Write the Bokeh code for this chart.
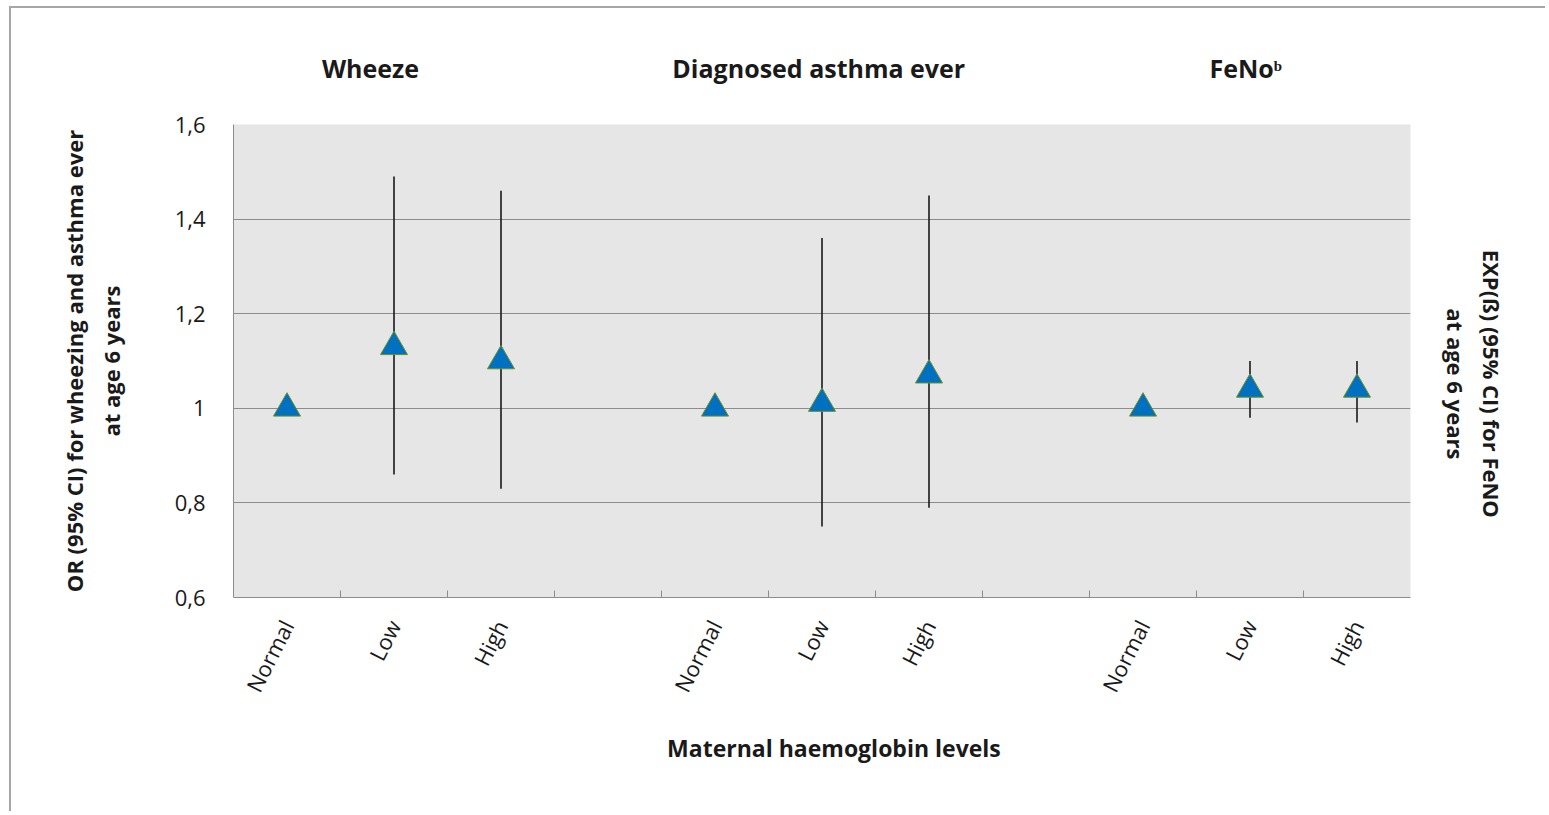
from bokeh.plotting import figure
from bokeh.models import FixedTicker, LinearAxis
from bokeh.embed import file_html
from bokeh.resources import INLINE
import math

# ---- data ----
groups = ["Wheeze", "Diagnosed asthma ever", "FeNo\u1d47"]
levels = ["Normal", "Low", "High"]
wheeze_est = [1.00, 1.13, 1.10]
wheeze_low = [None, 0.86, 0.83]
wheeze_high = [None, 1.49, 1.46]
asthma_est = [1.00, 1.01, 1.07]
asthma_low = [None, 0.75, 0.79]
asthma_high = [None, 1.36, 1.45]
feno_est = [1.00, 1.04, 1.04]
feno_low = [None, 0.98, 0.97]
feno_high = [None, 1.10, 1.10]
y_ticks = [0.6, 0.8, 1.0, 1.2, 1.4, 1.6]
y_tick_labels = ["0,6", "0,8", "1", "1,2", "1,4", "1,6"]

FONT = "Open Sans"
TXT = "#1a1a1a"
GRID = "#8c8c8c"
PAD = "\u00a0" * 8

ests = [wheeze_est, asthma_est, feno_est]
lows = [wheeze_low, asthma_low, feno_low]
highs = [wheeze_high, asthma_high, feno_high]

xs, ys, ex, elo, ehi = [], [], [], [], []
tick_centers, tick_labels = [], []
for g in range(len(groups)):
    for i, lev in enumerate(levels):
        x = g * 4 + i + 0.5
        tick_centers.append(x)
        tick_labels.append(lev)
        xs.append(x)
        ys.append(ests[g][i])
        if lows[g][i] is not None:
            ex.append(x)
            elo.append(lows[g][i])
            ehi.append(highs[g][i])

n_slots = 11

p = figure(width=1536, height=805, output_backend="svg", toolbar_location=None,
           x_range=(0, n_slots), y_range=(0.6, 1.6),
           min_border_left=222, min_border_right=137, min_border_top=116, min_border_bottom=216)
p.styles = {"margin-left": "9px", "margin-top": "6px",
            "border-top": "2px solid #a6a6a6", "border-left": "2px solid #a6a6a6"}
p.background_fill_color = "#e6e6e6"
p.border_fill_color = "white"
p.outline_line_color = None

# y axis (left)
ya = p.yaxis[0]
ya.ticker = FixedTicker(ticks=y_ticks)
ya.major_label_overrides = {t: l for t, l in zip(y_ticks, y_tick_labels)}
ya.major_tick_in = 0
ya.major_tick_out = 0
ya.minor_tick_in = 0
ya.minor_tick_out = 0
ya.axis_line_color = GRID
ya.major_label_standoff = 28
ya.major_label_text_font = FONT
ya.major_label_text_font_size = "22px"
ya.major_label_text_color = TXT
ya.axis_label = "OR (95% CI) for wheezing and asthma ever\nat age 6 years"
ya.axis_label_text_font = FONT
ya.axis_label_text_font_size = "22px"
ya.axis_label_text_font_style = "bold"
ya.axis_label_text_color = TXT
ya.axis_label_text_line_height = 1.22
ya.axis_label_standoff = 46

# right axis (label only)
ra = LinearAxis(ticker=FixedTicker(ticks=[]), axis_line_color=None,
                major_tick_in=0, major_tick_out=0, minor_tick_in=0, minor_tick_out=0,
                axis_label=PAD + "EXP(\u00df) (95% CI) for FeNO\n" + PAD + "at age 6 years",
                axis_label_text_font=FONT, axis_label_text_font_size="22px",
                axis_label_text_font_style="bold", axis_label_text_color=TXT,
                axis_label_text_line_height=1.22, axis_label_standoff=30)
p.add_layout(ra, "right")

# x axis (below)
xa = p.xaxis[0]
xa.ticker = FixedTicker(ticks=tick_centers, minor_ticks=list(range(1, n_slots)))
xa.major_label_overrides = {t: l for t, l in zip(tick_centers, tick_labels)}
xa.major_tick_in = 0
xa.major_tick_out = 0
xa.minor_tick_in = 7
xa.minor_tick_out = 0
xa.minor_tick_line_color = GRID
xa.axis_line_color = GRID
xa.major_label_orientation = math.radians(63)
xa.major_label_standoff = 24
xa.major_label_text_font = FONT
xa.major_label_text_font_size = "22px"
xa.major_label_text_color = TXT
xa.axis_label = "\u00a0" * 4 + "Maternal haemoglobin levels"
xa.axis_label_text_font = FONT
xa.axis_label_text_font_size = "23px"
xa.axis_label_text_font_style = "bold"
xa.axis_label_text_color = TXT
xa.axis_label_standoff = 25

# group titles as an axis above
title_pos = [1.28, 5.47, 9.46]
ta = LinearAxis(ticker=FixedTicker(ticks=title_pos), axis_line_color=None,
                major_tick_in=0, major_tick_out=0, minor_tick_in=0, minor_tick_out=0,
                major_label_overrides={t: g for t, g in zip(title_pos, groups)},
                major_label_text_font=FONT, major_label_text_font_size="25px",
                major_label_text_font_style="bold", major_label_text_color=TXT,
                major_label_standoff=40)
p.add_layout(ta, "above")

p.xgrid.grid_line_color = None
p.ygrid.grid_line_color = GRID
p.ygrid.grid_line_width = 1

# error bars
p.segment(x0=ex, y0=elo, x1=ex, y1=ehi, line_color="#1a1a1a", line_width=1.6)
# estimates
p.scatter(x=xs, y=ys, marker="triangle", size=27, fill_color="#0070c0",
          line_color="#6b8e23", line_width=1)

open("out.html", "w").write(file_html(p, INLINE))
